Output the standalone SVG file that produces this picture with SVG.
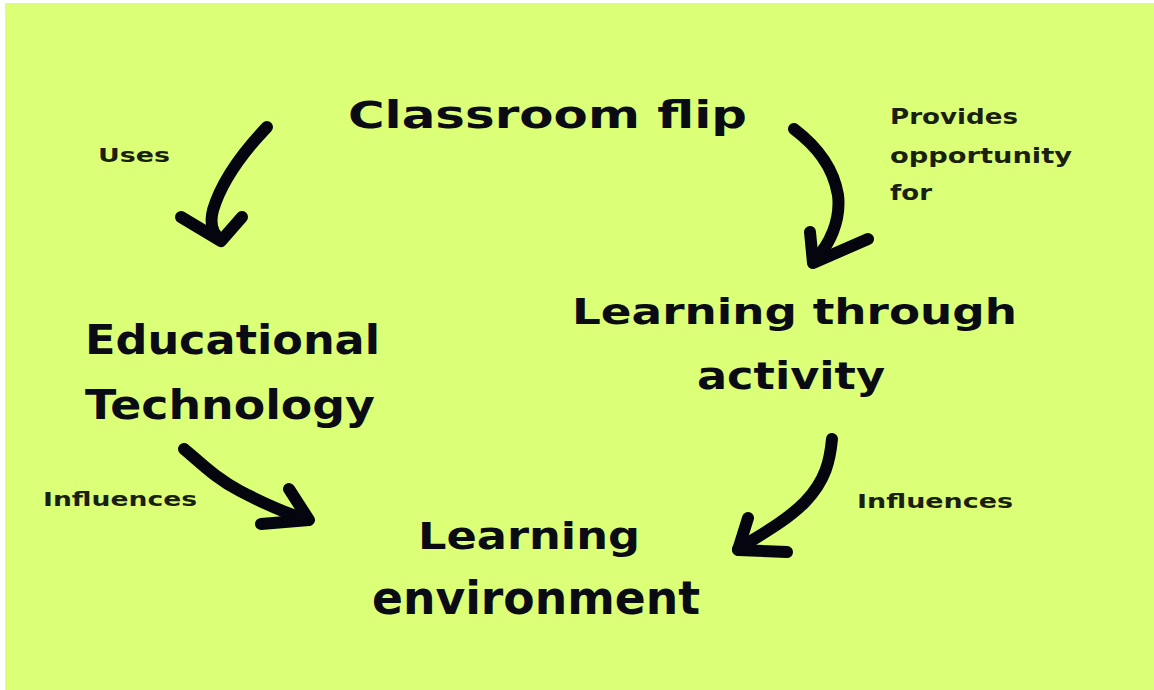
<svg xmlns="http://www.w3.org/2000/svg" width="1154" height="690" viewBox="0 0 1154 690">
<style>
.bg{fill:#dcff78}
.big{font-family:"DejaVu Sans",sans-serif;font-weight:bold;fill:#0b0b14}
.small{font-family:"DejaVu Sans",sans-serif;font-weight:bold;fill:#1a1f10}
.arrow{fill:none;stroke:#05050f;stroke-width:12;stroke-linecap:round;stroke-linejoin:round}
</style>
<rect x="0" y="0" width="1154" height="690" fill="#ffffff"/>
<rect class="bg" x="5" y="3" width="1149" height="687"/>
<g id="connectors">
  <g id="edge-uses">
    <path class="arrow" d="M267,127 C245,150 222,180 213,210 C209,225 214,235 221,240"/>
    <path class="arrow" d="M181,217 L221,241 L242,217"/>
    <text class="small" x="98" y="162" font-size="19" textLength="72" lengthAdjust="spacingAndGlyphs">Uses</text>
  </g>
  <g id="edge-provides">
    <path class="arrow" d="M794,129 C815,145 833,165 838,195 C841,220 830,245 813,262"/>
    <path class="arrow" d="M810,232 L813,263 L868,239"/>
    <text class="small" x="890" y="124" font-size="21" textLength="128" lengthAdjust="spacingAndGlyphs">Provides</text>
    <text class="small" x="890" y="163" font-size="21" textLength="182" lengthAdjust="spacingAndGlyphs">opportunity</text>
    <text class="small" x="890" y="200" font-size="21" textLength="42" lengthAdjust="spacingAndGlyphs">for</text>
  </g>
  <g id="edge-influences-left">
    <path class="arrow" d="M184,449 C200,462 215,478 240,491 C265,504 285,513 308,520"/>
    <path class="arrow" d="M289,489 L309,520 L261,524"/>
    <text class="small" x="43" y="506" font-size="20" textLength="154" lengthAdjust="spacingAndGlyphs">Influences</text>
  </g>
  <g id="edge-influences-right">
    <path class="arrow" d="M832,439 C830,460 826,480 805,502 C785,522 760,535 738,549"/>
    <path class="arrow" d="M748,518 L738,550 L787,552"/>
    <text class="small" x="857" y="508" font-size="20" textLength="156" lengthAdjust="spacingAndGlyphs">Influences</text>
  </g>
</g>
<g id="node-classroom-flip">
  <text class="big" x="348" y="128" font-size="37" textLength="399" lengthAdjust="spacingAndGlyphs">Classroom flip</text>
</g>
<g id="node-educational-technology">
  <text class="big" x="85" y="354" font-size="41" textLength="295" lengthAdjust="spacingAndGlyphs">Educational</text>
  <text class="big" x="85" y="419" font-size="40" textLength="290" lengthAdjust="spacingAndGlyphs">Technology</text>
</g>
<g id="node-learning-activity">
  <text class="big" x="572" y="324" font-size="36" textLength="445" lengthAdjust="spacingAndGlyphs">Learning through</text>
  <text class="big" x="697" y="389" font-size="37" textLength="188" lengthAdjust="spacingAndGlyphs">activity</text>
</g>
<g id="node-learning-environment">
  <text class="big" x="418" y="549" font-size="38" textLength="222" lengthAdjust="spacingAndGlyphs">Learning</text>
  <text class="big" x="372" y="614" font-size="46" textLength="328" lengthAdjust="spacingAndGlyphs">environment</text>
</g>
</svg>
